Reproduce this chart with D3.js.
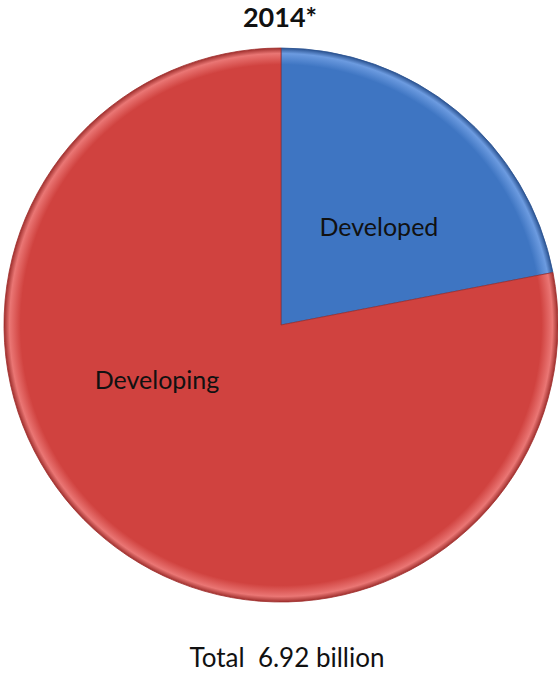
<!DOCTYPE html>
<html>
<head>
<meta charset="utf-8">
<script src="https://cdn.jsdelivr.net/npm/d3@7"></script>
<style>
  body { margin: 0; background: #fff; }
</style>
</head>
<body>
<script>
const categories = ['Developed', 'Developing'];
const values = [1.52, 5.40];   // billion
const title = '2014*';
const totalLabel = 'Total  6.92 billion';

const width = 558;
const height = 673;
const cx = 281, cy = 325, r = 277;

const colors = d3.scaleOrdinal().domain(categories).range(['#3e75c2', '#d0423f']);
const light = { Developed: '#6c9be0', Developing: '#ea7674' };
const dark = { Developed: '#2a5290', Developing: '#9f2f2d' };
// label placement: angle (deg, clockwise from 12 o'clock) and radius fraction
const labelPos = { Developed: [45, 0.5], Developing: [246, 0.49] };

const svg = d3.create('svg')
  .attr('width', width)
  .attr('height', height)
  .attr('viewBox', [0, 0, width, height]);

const defs = svg.append('defs');
categories.forEach(c => {
  const g = defs.append('radialGradient')
    .attr('id', 'g-' + c)
    .attr('gradientUnits', 'userSpaceOnUse')
    .attr('cx', 0).attr('cy', 0).attr('r', r);
  g.append('stop').attr('offset', 0).attr('stop-color', colors(c));
  g.append('stop').attr('offset', 0.94).attr('stop-color', colors(c));
  g.append('stop').attr('offset', 0.98).attr('stop-color', light[c]);
  g.append('stop').attr('offset', 1).attr('stop-color', dark[c]);
});

const pie = d3.pie().sort(null).value(d => d.value);
const arcs = pie(categories.map((c, i) => ({ name: c, value: values[i] })));
const arc = d3.arc().innerRadius(0).outerRadius(r);

const g = svg.append('g').attr('transform', `translate(${cx},${cy})`);

g.selectAll('path')
  .data(arcs)
  .join('path')
  .attr('d', arc)
  .attr('fill', d => `url(#g-${d.data.name})`)
  .attr('stroke', d => dark[d.data.name])
  .attr('stroke-width', 0.8);

g.selectAll('text')
  .data(arcs)
  .join('text')
  .attr('transform', d => {
    const [deg, f] = labelPos[d.data.name];
    const a = deg * Math.PI / 180;
    return `translate(${Math.sin(a) * r * f},${-Math.cos(a) * r * f})`;
  })
  .attr('text-anchor', 'middle')
  .attr('dy', '0.35em')
  .attr('font-family', 'Lato, "Open Sans", sans-serif')
  .attr('font-size', 25)
  .attr('fill', '#111')
  .text(d => d.data.name);

svg.append('text')
  .attr('x', cx - 1).attr('y', 27)
  .attr('text-anchor', 'middle')
  .attr('font-family', 'Lato, "Open Sans", sans-serif')
  .attr('font-weight', 'bold')
  .attr('font-size', 27)
  .attr('fill', '#111')
  .text(title);

svg.append('text')
  .attr('x', cx + 6).attr('y', 667)
  .attr('text-anchor', 'middle')
  .attr('font-family', 'Lato, "Open Sans", sans-serif')
  .attr('font-size', 26)
  .attr('fill', '#111')
  .style('white-space', 'pre')
  .text(totalLabel);

document.body.appendChild(svg.node());
</script>
</body>
</html>
